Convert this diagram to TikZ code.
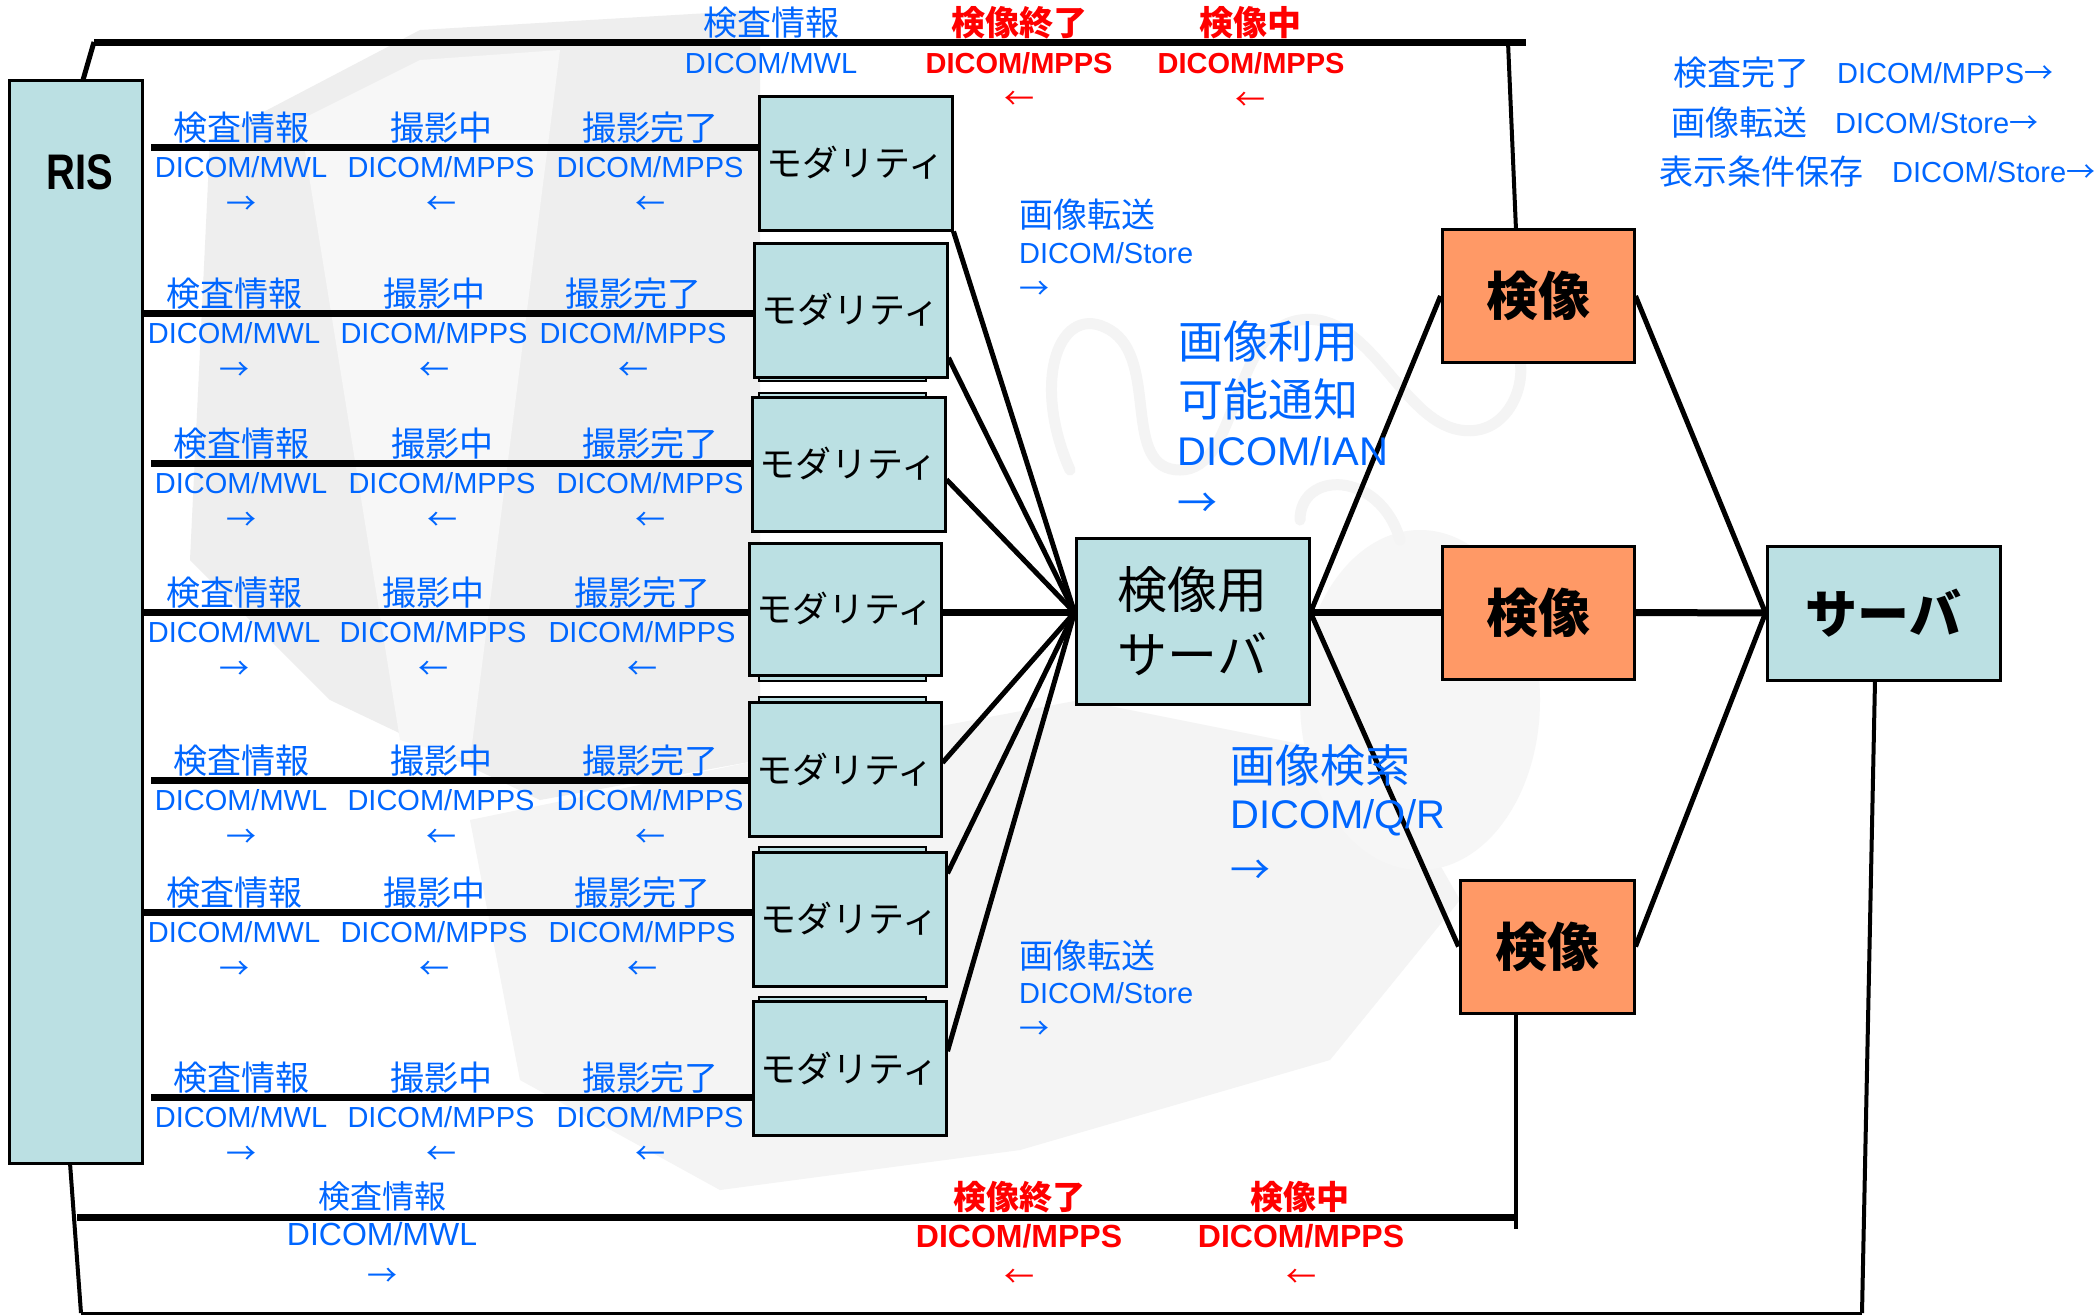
\documentclass[tikz,border=0pt]{standalone}
\usepackage{fontspec}
\setmainfont{Liberation Sans}
\newfontfamily\jp{Noto Sans CJK JP}
\definecolor{boxc}{RGB}{187,224,227}
\definecolor{orng}{RGB}{255,153,102}
\definecolor{dblue}{RGB}{0,102,255}
\definecolor{dred}{RGB}{255,0,0}
\begin{document}
\begin{tikzpicture}[x=1pt,y=-1pt,
  box/.style={draw=black, line width=3pt, fill=boxc, inner sep=0pt},
  modbox/.style={box, minimum width=193pt, minimum height=134pt,
    font=\jp\fontsize{36}{40}\selectfont},
  kbox/.style={draw=black, line width=3pt, fill=orng, inner sep=0pt,
    minimum width=192pt, minimum height=133pt,
    font=\jp\bfseries\fontsize{52}{60}\selectfont},
  jl/.style={text=dblue, inner sep=0pt, font=\jp\fontsize{34}{40}\selectfont},
  dl/.style={text=dblue, inner sep=0pt, font=\fontsize{29}{34}\selectfont},
  ar/.style={text=dblue, inner sep=0pt, font=\jp\fontsize{30}{34}\selectfont},
  rjl/.style={text=dred, inner sep=0pt, font=\jp\bfseries\fontsize{34}{40}\selectfont},
  rdl/.style={text=dred, inner sep=0pt, font=\bfseries\fontsize{29}{34}\selectfont},
  rar/.style={text=dred, inner sep=0pt, font=\jp\fontsize{30}{34}\selectfont},
  bus/.style={line width=7pt},
  fan/.style={line width=5pt},
  wire/.style={line width=4pt},
  thin/.style={line width=3pt},
  peek/.style={draw=black, line width=2pt, fill=boxc},
  cable/.style={gray!9, line width=11pt, line cap=round}]
\useasboundingbox (0,0) rectangle (2100,1315);
\fill[white] (0,0) rectangle (2100,1315);

% faint clip-art backdrop: monitor, keyboard, mouse and cable
\fill[gray!13] (210,140) -- (420,30) -- (760,10) -- (760,760) -- (540,800) -- (330,700) -- (190,560) -- cycle;
\fill[gray!6] (300,120) -- (420,60) -- (560,50) -- (470,760) -- (400,740) -- cycle;
\fill[gray!9] (470,820) -- (760,760) -- (1080,700) -- (1380,760) -- (1460,900) -- (1330,1060) -- (1020,1150) -- (720,1190) -- (520,1080) -- cycle;
\fill[gray!7] (1420,700) ellipse [x radius=120pt, y radius=170pt];
\draw[cable] (1070,470) .. controls (1030,380) and (1060,300) .. (1110,330)
  .. controls (1160,360) and (1120,470) .. (1180,470)
  .. controls (1240,470) and (1230,330) .. (1300,320)
  .. controls (1370,310) and (1400,420) .. (1460,430)
  .. controls (1520,440) and (1540,350) .. (1500,330);
\draw[cable] (1300,520) .. controls (1300,470) and (1380,470) .. (1400,540);

% stacked edges behind the modality boxes
\draw[peek] (759,360) rectangle (926,381);
\draw[peek] (759,393) rectangle (926,410);
\draw[peek] (759,660) rectangle (926,681);
\draw[peek] (759,697) rectangle (926,715);
\draw[peek] (759,847) rectangle (926,865);
\draw[peek] (759,997) rectangle (926,1015);

% main blocks
\node[box, minimum width=133pt, minimum height=1083pt] (ris) at (75.5,621.5) {};
\node[inner sep=0pt, font=\bfseries\fontsize{50}{56}\selectfont] (ristxt) at (80,172) {\scalebox{0.8}[1]{RIS}};

\node[modbox] (m1) at (855.5,163) {モダリティ};
\node[modbox] (m2) at (850.5,310) {モダリティ};
\node[modbox] (m3) at (848.5,464) {モダリティ};
\node[modbox, minimum width=192pt, minimum height=132pt] (m4) at (845,609) {モダリティ};
\node[modbox, minimum width=192pt] (m5) at (845,769.5) {モダリティ};
\node[modbox] (m6) at (849.5,919) {モダリティ};
\node[modbox] (m7) at (849.5,1068.5) {モダリティ};

\node[box, minimum width=233pt, minimum height=166pt, align=center,
  font=\jp\fontsize{50}{65}\selectfont] (srv) at (1192.5,621) {検像用\\サーバ};

\node[kbox] (k1) at (1538,296) {検像};
\node[kbox] (k2) at (1538,612.5) {検像};
\node[kbox, minimum width=174pt] (k3) at (1547,946.5) {検像};

\node[box, minimum width=233pt, minimum height=134pt,
  font=\jp\bfseries\fontsize{52}{60}\selectfont] (sv) at (1883.5,613) {サーバ};

% RIS to each modality
\foreach \i/\L/\a/\b/\c/\s in {1/147/241/441/650/151, 2/313/234/434/633/142,
    3/463/241/442/650/151, 4/612/234/433/642/142, 5/780/241/441/650/151,
    6/912/234/434/642/142, 7/1097/241/441/650/151}{
  \coordinate (r\i) at (\s,\L);
  \draw[bus] (r\i) -- (r\i -| m\i.west);
  \node[jl] (qa\i) at (\a,\L-19) {検査情報};
  \node[jl] (qb\i) at (\b,\L-19) {撮影中};
  \node[jl] (qc\i) at (\c,\L-19) {撮影完了};
  \node[dl] (da\i) at (\a,\L+20) {DICOM/MWL};
  \node[dl] (db\i) at (\b,\L+20) {DICOM/MPPS};
  \node[dl] (dc\i) at (\c,\L+20) {DICOM/MPPS};
  \node[ar] (aa\i) at (\a,\L+58) {→};
  \node[ar] (ab\i) at (\b,\L+58) {←};
  \node[ar] (ac\i) at (\c,\L+58) {←};
}

% modalities into the inspection server
\coordinate (hubL) at (srv.west |- k2.west);
\draw[fan] (m1.south east) -- (hubL);
\draw[fan] (m2.-26) -- (hubL);
\draw[fan] (m3.-9) -- (hubL);
\draw[bus] (m4.east |- hubL) -- (hubL);
\draw[fan] (m5.4) -- (hubL);
\draw[fan] (m6.25) -- (hubL);
\draw[fan] (m7.10) -- (hubL);

% inspection server to the viewers, viewers to the server
\coordinate (hubR) at (srv.east |- k2.west);
\draw[fan] (hubR) -- (k1.west);
\draw[bus] (hubR) -- (k2.west);
\draw[fan] (hubR) -- (k3.west);
\coordinate (hubS) at (sv.west);
\draw[fan] (k1.east) -- (hubS);
\draw[bus] (k2.east) -- (hubS);
\draw[fan] (k3.east) -- (hubS);

% upper RIS loop to the first viewer
\coordinate (ristop) at (83,80);
\coordinate (tl) at (94,42);
\coordinate (tr) at (1526,42);
\coordinate (tk) at (1508,42);
\coordinate (k1top) at (1516,230);
\draw[fan] (ristop) -- (tl);
\draw[bus] (tl) -- (tr);
\draw[wire] (tk) -- (k1top);

% lower RIS loops to the third viewer and to the server
\coordinate (risbot) at (70,1163);
\coordinate (bl) at (81,1313);
\coordinate (kbl) at (77,1217);
\coordinate (kb) at (1516,1217);
\coordinate (kbe) at (1516,1229);
\coordinate (k3b) at (1516,1013);
\coordinate (svs) at (1875,680);
\coordinate (svb) at (1862,1313);
\draw[wire] (risbot) -- (bl);
\draw[thin] (bl) -- (svb);
\draw[wire] (svs) -- (svb);
\draw[bus] (kbl) -- (kb);
\draw[wire] (k3b) -- (kbe);

% labels along the upper loop
\node[jl] (ut1) at (771,23) {検査情報};
\node[dl] (ud1) at (771,63) {DICOM/MWL};
\node[rjl] (ut2) at (1019,23) {検像終了};
\node[rdl] (ud2) at (1019,63) {DICOM/MPPS};
\node[rar] (ua2) at (1019,100) {←};
\node[rjl] (ut3) at (1250,23) {検像中};
\node[rdl] (ud3) at (1251,63) {DICOM/MPPS};
\node[rar] (ua3) at (1250,101) {←};

% labels along the lower loops
\node[jl, font=\jp\fontsize{32}{38}\selectfont] (lt1) at (382,1196) {検査情報};
\node[dl, font=\fontsize{32}{38}\selectfont] (ld1) at (382,1234) {DICOM/MWL};
\node[ar] (la1) at (382,1277) {→};
\node[rjl, font=\jp\bfseries\fontsize{33}{38}\selectfont] (lt2) at (1019,1197) {検像終了};
\node[rdl, font=\bfseries\fontsize{32}{38}\selectfont] (ld2) at (1019,1236) {DICOM/MPPS};
\node[rar] (la2) at (1019,1278) {←};
\node[rjl, font=\jp\bfseries\fontsize{33}{38}\selectfont] (lt3) at (1300,1197) {検像中};
\node[rdl, font=\bfseries\fontsize{32}{38}\selectfont] (ld3) at (1301,1236) {DICOM/MPPS};
\node[rar] (la3) at (1301,1278) {←};

% image transfer from the modalities
\node[jl, anchor=west] (st1) at (1019,215) {画像転送};
\node[dl, anchor=west] (sd1) at (1019,253) {DICOM/Store};
\node[ar, anchor=west] (sa1) at (1019,290) {→};
\node[jl, anchor=west] (st2) at (1019,956) {画像転送};
\node[dl, anchor=west] (sd2) at (1019,993) {DICOM/Store};
\node[ar, anchor=west] (sa2) at (1019,1030) {→};

% availability notice and query/retrieve
\node[jl, anchor=west, font=\jp\fontsize{45}{50}\selectfont] (it1) at (1178,342) {画像利用};
\node[jl, anchor=west, font=\jp\fontsize{45}{50}\selectfont] (it2) at (1178,399) {可能通知};
\node[dl, anchor=west, font=\fontsize{40}{46}\selectfont] (id1) at (1177,451) {DICOM/IAN};
\node[ar, anchor=west, font=\jp\fontsize{40}{46}\selectfont] (ia1) at (1177,505) {→};
\node[jl, anchor=west, font=\jp\fontsize{45}{50}\selectfont] (qt1) at (1230,765) {画像検索};
\node[dl, anchor=west, font=\fontsize{40}{46}\selectfont] (qd1) at (1230,818) {DICOM/Q/R};
\node[ar, anchor=west, font=\jp\fontsize{40}{46}\selectfont] (qa0) at (1230,872) {→};

% legend of viewer messages
\node[jl, anchor=west] (gt1) at (1673,73) {検査完了};
\node[dl, anchor=west] (gd1) at (1837,73) {DICOM/MPPS{\jp →}};
\node[jl, anchor=west] (gt2) at (1671,123) {画像転送};
\node[dl, anchor=west] (gd2) at (1835,123) {DICOM/Store{\jp →}};
\node[jl, anchor=west] (gt3) at (1659,172) {表示条件保存};
\node[dl, anchor=west] (gd3) at (1892,172) {DICOM/Store{\jp →}};
\end{tikzpicture}
\end{document}
